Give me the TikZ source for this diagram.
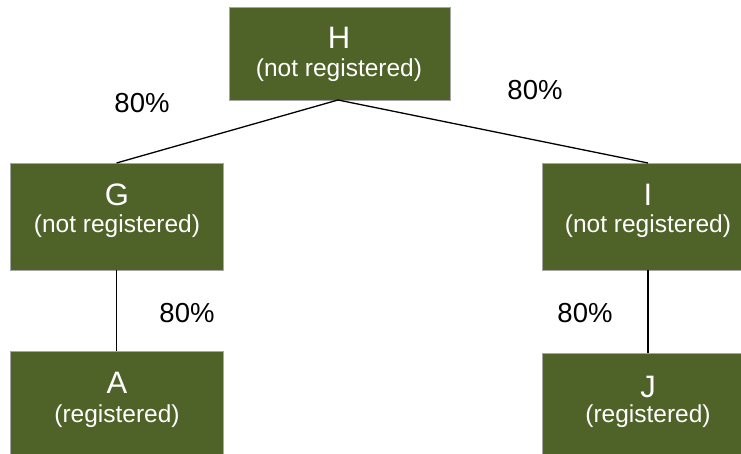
\documentclass[tikz,border=0pt]{standalone}
\usepackage{fontspec}
\setmainfont{Liberation Sans}
\definecolor{boxgreen}{RGB}{79,98,40}
\begin{document}
\begin{tikzpicture}[x=1pt,y=-1pt,
  gbox/.style={fill=boxgreen, draw=gray!70, line width=0.6pt, inner sep=0pt, outer sep=0pt},
  ttl/.style={text=white, font=\fontsize{31}{33}\selectfont, inner sep=0pt},
  sub/.style={text=white, font=\fontsize{24.5}{27}\selectfont, inner sep=0pt},
  pct/.style={text=black, font=\fontsize{27.5}{29}\selectfont, inner sep=0pt},
  conn/.style={draw=black, line width=1.3pt}]
\path[use as bounding box, clip] (0,0) rectangle (741,454);
\fill[white] (0,0) rectangle (741,454);
% boxes
\node[gbox, minimum width=221pt, minimum height=93pt] (H) at (339.5,53.5) {};
\node[gbox, minimum width=213pt, minimum height=107pt] (G) at (116.5,216.5) {};
\node[gbox, minimum width=212pt, minimum height=107pt] (I) at (648,216.5) {};
\node[gbox, minimum width=213pt, minimum height=107pt] (A) at (116.5,404.5) {};
\node[gbox, minimum width=212pt, minimum height=107pt] (J) at (648,406.5) {};
% texts
\node[ttl] (Ht) at (339,38) {H};
\node[sub] (Hs) at (339,70) {(not registered)};
\node[ttl] (Gt) at (117,195) {G};
\node[sub] (Gs) at (117,226) {(not registered)};
\node[ttl] (It) at (648,195) {I};
\node[sub] (Is) at (648,226) {(not registered)};
\node[ttl] (At) at (117,383) {A};
\node[sub] (As) at (117,416) {(registered)};
\node[ttl] (Jt) at (648,387) {J};
\node[sub] (Js) at (648,416) {(registered)};
% connectors
\draw[conn] (338,100) coordinate (hb) -- (G.north);
\draw[conn] (hb) -- (I.north);
\draw[conn] (G.south) -- (A.north);
\draw[conn] (I.south) -- (J.north);
% labels
\node[pct] (p1) at (142,103) {80\%};
\node[pct] (p2) at (535,90) {80\%};
\node[pct] (p3) at (187,313) {80\%};
\node[pct] (p4) at (585,313) {80\%};
\end{tikzpicture}
\end{document}
